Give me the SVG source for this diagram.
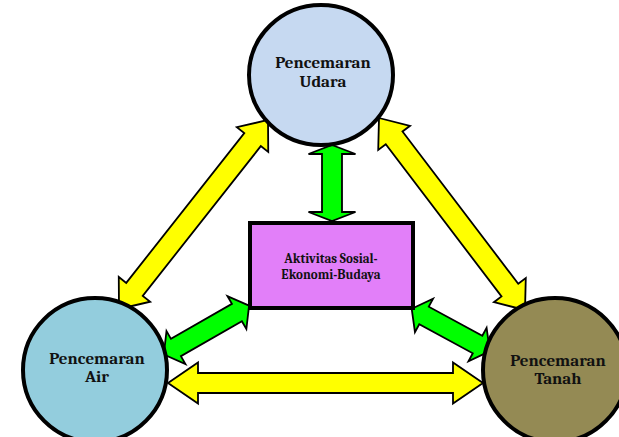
<svg xmlns="http://www.w3.org/2000/svg" width="619" height="437" viewBox="0 0 619 437">
  <style>
    .yarrow { fill: #FFFF00; stroke: #000000; stroke-width: 1.8; stroke-linejoin: miter; }
    .garrow { fill: #00FF00; stroke: #000000; stroke-width: 1.8; stroke-linejoin: miter; }
    .node { stroke: #000000; stroke-width: 4; }
    .lbl { font-family: Cambria, "Liberation Serif", "DejaVu Serif", serif; font-weight: bold; font-size: 17px; fill: #111111; text-anchor: middle; }
    .lbl2 { font-family: Cambria, "Liberation Serif", "DejaVu Serif", serif; font-weight: bold; font-size: 13px; fill: #111111; text-anchor: middle; }
  </style>
  <rect width="619" height="437" fill="#FFFFFF"/>
  <g id="connectors">
    <!-- Udara <-> Air (yellow) -->
    <path class="yarrow" transform="translate(119,309) rotate(-51.75)" d="M0,0 L25,-20 L25,-10.5 L215.7,-10.5 L215.7,-20 L240.7,0 L215.7,20 L215.7,10.5 L25,10.5 L25,20 Z"/>
    <!-- Udara <-> Tanah (yellow) -->
    <path class="yarrow" transform="translate(379,118) rotate(52.75)" d="M0,0 L25,-20 L25,-10.5 L216.2,-10.5 L216.2,-20 L241.2,0 L216.2,20 L216.2,10.5 L25,10.5 L25,20 Z"/>
    <!-- Air <-> Tanah (yellow) -->
    <path class="yarrow" d="M168,383 L198,362.5 L198,373 L453,373 L453,362.5 L483,383 L453,403.5 L453,393 L198,393 L198,403.5 Z"/>
    <!-- Udara <-> Aktivitas (green) -->
    <path class="garrow" d="M332,145 L355.5,154 L342,154 L342,212 L355.5,212 L332,221 L308.5,212 L322,212 L322,154 L308.5,154 Z"/>
    <!-- Air <-> Aktivitas (green) -->
    <path class="garrow" transform="translate(163.8,354.5) rotate(-29.85)" d="M0,0 L14,-19 L14,-10 L84.3,-10 L84.3,-19 L98.3,0 L84.3,19 L84.3,10 L14,10 L14,19 Z"/>
    <!-- Aktivitas <-> Tanah (green) -->
    <path class="garrow" transform="translate(411.7,308.8) rotate(28.46)" d="M0,0 L14,-19 L14,-10 L74.9,-10 L74.9,-19 L88.9,0 L74.9,19 L74.9,10 L14,10 L14,19 Z"/>
  </g>
  <g id="node-udara">
    <ellipse class="node" cx="321" cy="75" rx="72" ry="70" fill="#C6D9F1"/>
    <text class="lbl" x="323" y="68">Pencemaran</text>
    <text class="lbl" x="323" y="87">Udara</text>
  </g>
  <g id="node-air">
    <circle class="node" cx="95" cy="370" r="72" fill="#93CDDD"/>
    <text class="lbl" x="97" y="364">Pencemaran</text>
    <text class="lbl" x="97" y="382">Air</text>
  </g>
  <g id="node-tanah">
    <circle class="node" cx="555" cy="370" r="72" fill="#948A54"/>
    <text class="lbl" x="558" y="366">Pencemaran</text>
    <text class="lbl" x="558" y="384">Tanah</text>
  </g>
  <g id="node-aktivitas">
    <rect class="node" x="250" y="223" width="163" height="85" fill="#E27FF9"/>
    <text class="lbl2" x="331" y="263">Aktivitas Sosial-</text>
    <text class="lbl2" x="331" y="279">Ekonomi-Budaya</text>
  </g>
</svg>
